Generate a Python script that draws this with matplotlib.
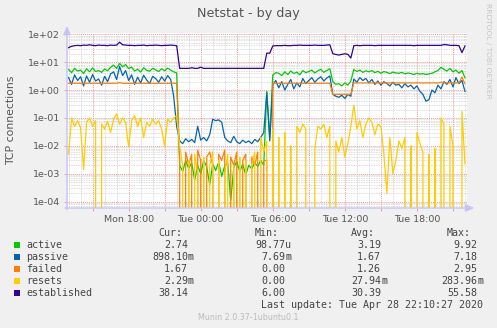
import numpy as np
import matplotlib
matplotlib.use("Agg")
import matplotlib.pyplot as plt
from matplotlib.patches import Rectangle
from matplotlib.ticker import FixedLocator, LogLocator, MultipleLocator, FuncFormatter, NullFormatter

# samples every 15 min, hours relative to Tue 00:00
t_start = -11.0
t_step = 0.25

active = [
    5.5, 4.2, 6.0, 4.8, 5.2, 3.9, 5.8, 4.5, 6.2, 4.6,
    5.0, 4.3, 5.7, 4.9, 6.5, 7.8, 6.0, 9.0, 6.8, 8.2,
    5.9, 6.6, 4.8, 5.6, 4.4, 6.3, 5.1, 4.7, 6.0, 5.3,
    4.6, 5.8, 4.9, 6.1, 5.2, 4.5, 4.1, 2e-3, 1.2e-3, 3e-3,
    1.5e-3, 2.5e-3, 6e-4, 2e-3, 1e-3, 3e-3, 1.8e-3, 4e-4, 2.2e-3, 1.3e-3,
    2.6e-3, 8e-4, 1.9e-3, 2.4e-3, 1.1e-4, 1.6e-3, 2.8e-3, 1.2e-3, 2.2e-3, 9e-4,
    2.0e-3, 1.5e-3, 2.5e-3, 1.8e-3, 3e-3, 2e-3, 0.9, 0.02, 3.5, 4.2,
    4.0, 3.3, 4.5, 3.6, 4.8, 3.9, 4.4, 3.5, 5.0, 4.2,
    4.6, 5.2, 4.1, 4.9, 5.5, 4.3, 5.0, 5.8, 2.0, 1.6,
    1.7, 1.4, 1.8, 1.5, 2.1, 5.5, 4.6, 5.2, 4.3, 4.9,
    4.5, 5.0, 4.2, 4.7, 4.0, 4.6, 4.3, 3.9, 4.4, 4.1,
    4.0, 4.3, 3.8, 4.1, 3.9, 3.6, 4.0, 3.7, 3.9, 3.6,
    3.8, 4.0, 4.5, 5.0, 6.5, 5.5, 4.8, 6.0, 4.5, 5.2,
    4.0, 5.0, 2.74,
]

passive = [
    2.8, 1.6, 3.5, 2.2, 3.0, 1.4, 3.2, 1.9, 3.6, 2.1,
    2.5, 1.5, 3.1, 2.0, 3.8, 4.5, 2.4, 7.0, 3.3, 5.0,
    2.2, 3.5, 1.6, 2.9, 1.8, 3.4, 2.3, 1.7, 3.1, 2.6,
    1.9, 3.0, 2.1, 3.3, 2.4, 0.6, 0.05, 0.015, 0.012, 0.018,
    0.014, 0.017, 0.013, 0.05, 0.016, 0.02, 0.015, 0.025, 0.09, 0.08,
    0.085, 0.07, 0.02, 0.015, 0.013, 0.022, 0.014, 0.012, 0.016, 0.013,
    0.015, 0.012, 0.017, 0.014, 0.02, 0.03, 0.8, 0.015, 1.5, 2.2,
    1.2, 2.0, 1.0, 1.6, 2.4, 1.1, 1.8, 1.3, 2.6, 1.7,
    2.2, 2.8, 1.9, 2.5, 3.0, 2.1, 2.7, 3.2, 0.7, 0.6,
    0.55, 0.65, 0.5, 0.7, 0.6, 2.5, 1.9, 2.8, 2.2, 2.6,
    1.8, 2.4, 1.6, 2.1, 1.5, 2.0, 1.7, 1.4, 1.9, 1.5,
    1.6, 1.2, 1.7, 1.3, 1.5, 1.1, 1.4, 0.9, 0.7, 0.4,
    0.45, 1.0, 0.8, 1.5, 1.1, 2.0, 1.6, 2.4, 1.3, 2.8,
    1.7, 2.2, 0.9,
]

failed = [
    1.75, 1.75, 1.75, 1.75, 1.75, 1.75, 1.75, 1.75, 1.75, 1.75,
    1.75, 1.75, 1.75, 1.75, 1.75, 1.75, 1.75, 1.85, 1.75, 1.75,
    1.75, 1.75, 1.75, 1.75, 1.75, 1.75, 1.75, 1.75, 1.75, 1.75,
    1.75, 1.75, 1.75, 1.75, 1.75, 1.75, 1.75, 0.004, 0, 0.006,
    0.002, 0.005, 0, 0.007, 0.003, 0, 0.004, 0.006, 0.002, 0,
    0.005, 0.003, 0.007, 0, 0.004, 0.002, 0.006, 0, 0.003, 0.005,
    0, 0.004, 0.002, 0.006, 0, 0.003, 0.003, 0, 1.75, 1.75,
    1.75, 1.75, 1.75, 1.75, 1.75, 1.75, 1.75, 1.75, 1.75, 1.75,
    1.75, 1.75, 1.75, 1.75, 1.75, 1.75, 1.75, 1.75, 0.7, 0.7,
    0.7, 0.7, 0.7, 0.7, 0.7, 1.8, 1.8, 1.8, 1.8, 1.8,
    1.8, 1.8, 1.8, 1.8, 1.8, 1.8, 1.8, 1.8, 1.8, 1.8,
    1.8, 1.8, 1.8, 1.8, 1.8, 1.8, 1.8, 1.8, 1.8, 1.8,
    1.8, 1.8, 1.8, 1.8, 1.9, 1.8, 1.8, 1.8, 1.8, 1.8,
    1.8, 2.95, 1.67,
]

resets = [
    0.005, 0.1, 0.05, 0.08, 0.045, 0.0014, 0.07, 0.1, 0.05, 0.08,
    0, 0.06, 0.04, 0.075, 0.03, 0.09, 0.14, 0.06, 0.1, 0.07,
    0.009, 0.08, 0.12, 0.05, 0.1, 0.02, 0.07, 0.05, 0.09, 0.06,
    0.08, 0.04, 0.01, 0.09, 0.07, 0.1, 0.12, 0.01, 0.002, 0,
    0.003, 0, 0.005, 0.001, 0, 0.004, 0, 0.002, 0.006, 0,
    0.003, 0, 0.001, 0.005, 0, 0.002, 0, 0.004, 0, 0.003,
    0, 0.002, 0.006, 0, 0.02, 0.006, 0.015, 0, 0.04, 0,
    0.02, 0, 0.03, 0, 0.01, 0, 0.05, 0.03, 0.06, 0.04,
    0, 0, 0.008, 0.05, 0.04, 0.06, 0.02, 0.05, 0, 0.015,
    0.006, 0.02, 0.004, 0.012, 0.05, 0.29, 0.04, 0.08, 0.02, 0.06,
    0.1, 0.07, 0.025, 0.06, 0.05, 0.005, 0.0002, 0.02, 0.001, 0.003,
    0.015, 0.008, 0.02, 0, 0.01, 0, 0.03, 0.012, 0.006, 0,
    0.005, 0, 0.008, 0, 0.1, 0.06, 0, 0.05, 0.01, 0,
    0, 0.17, 0.0023,
]

established = [
    33, 37, 39, 40, 39, 41, 40, 42, 40, 39,
    41, 40, 40, 39, 41, 40, 41, 52, 42, 41,
    40, 40, 39, 40, 40, 41, 39, 40, 40, 41,
    40, 39, 40, 40, 41, 40, 39, 6, 6, 6,
    6, 6.3, 6, 6, 6.6, 6, 6, 6, 6, 6,
    6, 6, 6, 6, 6, 6, 6, 6, 6, 6,
    6, 6, 6, 6, 6, 6, 21, 21, 38, 39,
    39, 39, 40, 39, 39, 40, 40, 41, 40, 40,
    40, 40, 41, 40, 40, 40, 41, 42, 20, 19,
    18, 19, 20, 19, 14, 39, 40, 39, 40, 40,
    40, 40, 39, 40, 40, 40, 40, 40, 40, 40,
    40, 40, 40, 40, 40, 39, 40, 40, 40, 40,
    40, 40, 40, 40, 40, 43, 42, 40, 40, 40,
    39, 22, 38,
]

names = ['active', 'passive', 'failed', 'resets', 'established']
colors = ['#00cc00', '#0066b3', '#ff8000', '#ffcc00', '#330099']
cur_vals = ['2.74', '898.10m', '1.67', '2.29m', '38.14']
min_vals = ['98.77u', '7.69m', '0.00', '0.00', '6.00']
avg_vals = ['3.19', '1.67', '1.26', '27.94m', '30.39']
max_vals = ['9.92', '7.18', '2.95', '283.96m', '55.58']

W, H = 497, 328
fig = plt.figure(figsize=(W / 100, H / 100), dpi=100, facecolor='#f0f0f0')
ax = fig.add_axes([67 / W, 1 - 208 / H, 400 / W, 175 / H])
ax.set_facecolor('white')

hours = t_start + t_step * np.arange(len(established))
for vals, c in zip([active, passive, failed, resets, established], colors):
    ax.plot(hours, vals, color=c, lw=0.9)

ax.set_yscale('log')
ax.set_ylim(5.9e-5, 111)
ax.set_xlim(-11.13, 22.17)

ax.yaxis.set_major_locator(FixedLocator([1e-4, 1e-3, 1e-2, 1e-1, 1, 10, 100]))
ax.yaxis.set_minor_locator(LogLocator(base=10, subs=np.arange(2, 10), numticks=30))
ax.yaxis.set_major_formatter(FuncFormatter(lambda v, p: '%.0e' % v))
ax.yaxis.set_minor_formatter(NullFormatter())


def hour_label(h, pos):
    h = int(round(h))
    if h % 6:
        return ''
    day = 'Mon' if h < 0 else 'Tue'
    return '%s %02d:00' % (day, h % 24)


ax.xaxis.set_major_locator(MultipleLocator(3))
ax.xaxis.set_minor_locator(MultipleLocator(1))
ax.xaxis.set_major_formatter(FuncFormatter(hour_label))

red = '#f29a9a'
grey = '#d0d0d0'
ax.grid(which='major', color=red, ls=(0, (1, 1)), lw=0.7)
ax.grid(which='minor', color=grey, ls=(0, (1, 1)), lw=0.6)
ax.set_axisbelow(True)
ax.tick_params(which='major', length=2, width=0.7, color=red, labelsize=6.8,
               labelcolor='#555555', pad=3)
ax.tick_params(which='minor', length=0)
for s in ax.spines.values():
    s.set_visible(False)

axis_col = '#c4c4f4'
ax.annotate('', xy=(0, 1.04), xytext=(0, -0.01), xycoords='axes fraction',
            arrowprops=dict(arrowstyle='-|>,head_length=0.5,head_width=0.22',
                            color=axis_col, lw=1.0, shrinkA=0, shrinkB=0))
ax.annotate('', xy=(1.018, 0), xytext=(-0.005, 0), xycoords='axes fraction',
            arrowprops=dict(arrowstyle='-|>,head_length=0.5,head_width=0.22',
                            color=axis_col, lw=1.0, shrinkA=0, shrinkB=0))


def ftext(x, y, s, **kw):
    return fig.text(x / W, 1 - y / H, s, **kw)


ftext(248, 13.5, 'Netstat - by day', ha='center', va='center', fontsize=9.2, color='#555555')
ftext(11, 120, 'TCP connections', rotation=90, ha='center', va='center',
      fontsize=7.8, color='#555555')
ftext(488, 51, 'RRDTOOL / TOBI OETIKER', rotation=270, ha='center', va='center',
      fontsize=5.4, color='#c4c4c4')

mono = dict(family='DejaVu Sans Mono', fontsize=7.2, color='#444444', va='center')
col_ends = [188, 285, 381, 477]
headers = ['Cur:', 'Min:', 'Avg:', 'Max:']
for xe, hd in zip(col_ends, headers):
    ftext(xe - 6, 233, hd, ha='right', **mono)

rows_y = [245, 257, 268.7, 280.7, 292.7]
for k, y in enumerate(rows_y):
    fig.add_artist(Rectangle((14 / W, 1 - (y + 3) / H), 6 / W, 6 / H,
                             transform=fig.transFigure, color=colors[k], lw=0))
    ftext(26.5, y, names[k], ha='left', **mono)
    for xe, s in zip(col_ends, [cur_vals[k], min_vals[k], avg_vals[k], max_vals[k]]):
        num, unit = (s[:-1], s[-1]) if s[-1] in 'mu' else (s, '')
        ftext(xe, y, num, ha='right', **mono)
        if unit:
            ftext(xe, y, unit, ha='left', **mono)

ftext(483, 305, 'Last update: Tue Apr 28 22:10:27 2020', ha='right', **mono)
ftext(248, 317, 'Munin 2.0.37-1ubuntu0.1', ha='center', va='center',
      fontsize=5.8, color='#bbbbbb')

fig.savefig('out.png', dpi=100, facecolor=fig.get_facecolor())
